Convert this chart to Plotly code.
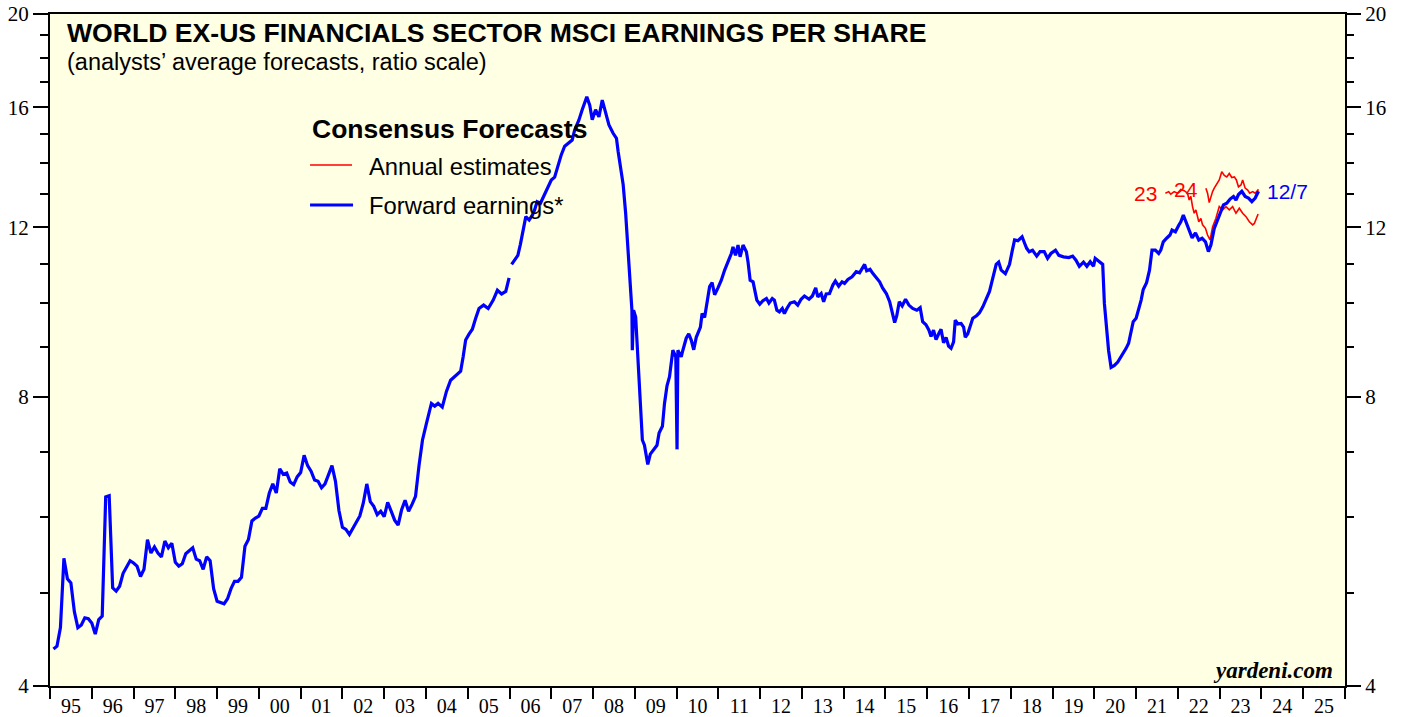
import math
import pandas as pd
import plotly.graph_objects as go

# ---------------- data ----------------
# Forward earnings, monthly, Feb 1995 .. Dec 2003
fwd_monthly_start = "1995-02-01"
fwd_monthly = [4.37, 4.40, 4.60, 5.43, 5.17, 5.12, 4.78, 4.60, 4.63, 4.71,
               4.70, 4.65, 4.53, 4.69, 4.73, 6.29, 6.31, 5.06, 5.02, 5.08,
               5.24, 5.33, 5.40, 5.37, 5.33, 5.20, 5.29, 5.68, 5.50, 5.58,
               5.50, 5.45, 5.66, 5.57, 5.63, 5.38, 5.33, 5.36, 5.49, 5.53,
               5.57, 5.42, 5.40, 5.29, 5.45, 5.40, 5.05, 4.90, 4.88, 4.87,
               4.93, 5.05, 5.14, 5.14, 5.19, 5.59, 5.68, 5.94, 5.98, 6.01,
               6.12, 6.12, 6.35, 6.49, 6.35, 6.73, 6.64, 6.66, 6.52, 6.48,
               6.60, 6.67, 6.95, 6.78, 6.69, 6.55, 6.53, 6.43, 6.49, 6.64,
               6.78, 6.53, 6.09, 5.85, 5.82, 5.75, 5.84, 5.93, 6.01, 6.20,
               6.49, 6.22, 6.15, 6.03, 6.08, 6.00, 6.21, 6.08, 5.95, 5.88,
               6.10, 6.24, 6.08, 6.18, 6.30, 6.78, 7.21]

# Forward earnings, 2004 .. 12/7/2023 (decimal years)
fwd_years = [2004.01, 2004.13, 2004.21, 2004.29, 2004.39, 2004.49, 2004.59, 2004.71, 2004.83, 2004.89,
             2004.95, 2005.03, 2005.11, 2005.19, 2005.27, 2005.38, 2005.49, 2005.61, 2005.71, 2005.81,
             2005.91, 2005.99, 2006.02, 2006.05, 2006.12, 2006.20, 2006.26, 2006.32, 2006.39, 2006.47,
             2006.55, 2006.60, 2006.66, 2006.74, 2006.84, 2006.92, 2007.00, 2007.08, 2007.16, 2007.24,
             2007.32, 2007.42, 2007.50, 2007.56, 2007.66, 2007.74, 2007.80, 2007.85, 2007.92, 2007.98,
             2008.06, 2008.14, 2008.22, 2008.30, 2008.38, 2008.48, 2008.56, 2008.60, 2008.65, 2008.72,
             2008.78, 2008.83, 2008.86, 2008.89, 2008.93, 2008.94, 2008.97, 2009.02, 2009.05, 2009.10,
             2009.13, 2009.18, 2009.23, 2009.29, 2009.31, 2009.37, 2009.45, 2009.53, 2009.58, 2009.66,
             2009.71, 2009.77, 2009.83, 2009.87, 2009.91, 2009.98, 2010.01, 2010.03, 2010.11, 2010.15,
             2010.23, 2010.29, 2010.35, 2010.41, 2010.47, 2010.57, 2010.61, 2010.67, 2010.75, 2010.79,
             2010.85, 2010.91, 2010.99, 2011.07, 2011.15, 2011.23, 2011.31, 2011.35, 2011.41, 2011.47,
             2011.52, 2011.59, 2011.67, 2011.71, 2011.76, 2011.83, 2011.87, 2011.92, 2011.99, 2012.06,
             2012.15, 2012.21, 2012.29, 2012.34, 2012.40, 2012.46, 2012.53, 2012.58, 2012.64, 2012.72,
             2012.82, 2012.90, 2012.98, 2013.06, 2013.17, 2013.25, 2013.33, 2013.38, 2013.46, 2013.52,
             2013.58, 2013.66, 2013.74, 2013.80, 2013.88, 2013.96, 2014.02, 2014.10, 2014.20, 2014.30,
             2014.38, 2014.44, 2014.50, 2014.55, 2014.63, 2014.70, 2014.77, 2014.86, 2014.93, 2015.02,
             2015.10, 2015.17, 2015.22, 2015.27, 2015.33, 2015.40, 2015.48, 2015.56, 2015.65, 2015.75,
             2015.83, 2015.89, 2015.97, 2016.04, 2016.09, 2016.15, 2016.21, 2016.28, 2016.33, 2016.39,
             2016.45, 2016.51, 2016.57, 2016.63, 2016.67, 2016.73, 2016.81, 2016.87, 2016.91, 2016.97,
             2017.03, 2017.09, 2017.18, 2017.25, 2017.33, 2017.41, 2017.49, 2017.57, 2017.65, 2017.71,
             2017.77, 2017.87, 2017.97, 2018.03, 2018.09, 2018.17, 2018.27, 2018.33, 2018.38, 2018.44,
             2018.52, 2018.62, 2018.70, 2018.80, 2018.88, 2018.96, 2019.07, 2019.15, 2019.26, 2019.39,
             2019.48, 2019.56, 2019.64, 2019.74, 2019.82, 2019.90, 2019.98, 2020.02, 2020.12, 2020.20,
             2020.24, 2020.29, 2020.34, 2020.40, 2020.48, 2020.56, 2020.64, 2020.69, 2020.76, 2020.82,
             2020.88, 2020.93, 2021.00, 2021.06, 2021.12, 2021.17, 2021.25, 2021.32, 2021.38, 2021.46,
             2021.54, 2021.59, 2021.65, 2021.73, 2021.81, 2021.86, 2021.94, 2022.02, 2022.07, 2022.13,
             2022.19, 2022.26, 2022.34, 2022.42, 2022.50, 2022.58, 2022.66, 2022.73, 2022.79, 2022.87,
             2022.93, 2023.01, 2023.09, 2023.17, 2023.25, 2023.33, 2023.39, 2023.45, 2023.53, 2023.61,
             2023.69, 2023.77, 2023.85, 2023.93]
fwd_values = [7.50, 7.87, 7.82, 7.87, 7.80, 8.10, 8.32, 8.42, 8.50, 8.80,
              9.16, 9.29, 9.40, 9.65, 9.88, 9.96, 9.88, 10.08, 10.32, 10.23,
              10.29, 10.63, None, 10.98, 11.09, 11.22, 11.52, 11.83, 12.31, 12.21,
              12.36, 12.51, 12.76, 12.71, 12.98, 13.25, 13.44, 13.53, 13.95, 14.28,
              14.57, 14.69, 14.79, 15.15, 15.51, 15.90, 16.17, 16.40, 16.08, 15.53,
              15.90, 15.63, 16.27, 15.76, 15.33, 15.03, 14.85, 14.39, 13.90, 13.30,
              12.41, 11.36, 11.04, 10.34, 9.84, 8.94, 9.84, 9.68, 9.09, 8.39,
              7.75, 7.21, 7.12, 6.92, 6.80, 6.97, 7.05, 7.12, 7.33, 7.45,
              7.87, 8.21, 8.39, 8.73, 8.94, 8.80, 7.05, 8.94, 8.80, 8.94,
              9.20, 9.30, 9.16, 8.95, 9.22, 9.45, 9.76, 9.67, 10.21, 10.41,
              10.51, 10.21, 10.38, 10.57, 10.83, 11.05, 11.27, 11.45, 11.22, 11.50,
              11.18, 11.50, 11.32, 11.04, 10.57, 10.53, 10.29, 10.08, 9.98, 10.06,
              10.12, 10.01, 10.12, 10.08, 9.84, 9.80, 9.88, 9.76, 9.88, 10.01,
              10.04, 9.96, 10.10, 10.18, 10.10, 10.18, 10.38, 10.16, 10.24, 10.04,
              10.23, 10.24, 10.45, 10.55, 10.42, 10.53, 10.49, 10.59, 10.66, 10.79,
              10.76, 10.87, 10.98, 10.81, 10.85, 10.74, 10.66, 10.53, 10.38, 10.24,
              10.04, 9.76, 9.55, 9.71, 10.04, 9.94, 10.10, 9.96, 9.88, 9.84,
              9.90, 9.57, 9.50, 9.38, 9.24, 9.38, 9.17, 9.31, 9.40, 9.10,
              9.22, 9.03, 8.98, 9.12, 9.61, 9.52, 9.53, 9.45, 9.22, 9.30,
              9.50, 9.65, 9.71, 9.78, 9.92, 10.12, 10.29, 10.63, 10.98, 11.04,
              10.83, 10.74, 10.98, 11.32, 11.64, 11.62, 11.73, 11.55, 11.41, 11.32,
              11.36, 11.20, 11.32, 11.32, 11.14, 11.27, 11.36, 11.22, 11.18, 11.16,
              11.20, 11.09, 10.93, 11.04, 10.93, 11.05, 10.93, 11.14, 11.04, 10.98,
              10.00, 9.45, 8.94, 8.58, 8.62, 8.69, 8.80, 8.90, 8.98, 9.09,
              9.34, 9.57, 9.65, 9.84, 10.08, 10.34, 10.51, 10.83, 11.36, 11.36,
              11.27, 11.36, 11.59, 11.69, 11.78, 11.92, 11.87, 12.06, 12.16, 12.36,
              12.16, 11.97, 11.70, 11.84, 11.64, 11.69, 11.59, 11.32, 11.50, 11.97,
              12.16, 12.46, 12.66, 12.71, 12.84, 12.92, 12.81, 12.98, 13.08, 12.92,
              12.87, 12.76, 12.87, 13.08]

# Annual consensus estimates
est23_years = [2021.70, 2021.78, 2021.83, 2021.91, 2021.99, 2022.07, 2022.15, 2022.23, 2022.27, 2022.31,
               2022.35, 2022.39, 2022.43, 2022.50, 2022.55, 2022.59, 2022.66, 2022.71, 2022.77, 2022.83,
               2022.91, 2022.99, 2023.07, 2023.15, 2023.23, 2023.31, 2023.39, 2023.47, 2023.55, 2023.63,
               2023.71, 2023.79, 2023.83, 2023.87, 2023.92]
est23_values = [13.02, 13.07, 12.99, 13.07, 13.02, 13.14, 13.10, 13.02, 12.81, 12.92,
                12.61, 12.41, 12.51, 12.16, 12.26, 12.07, 11.97, 11.78, 11.64, 12.01,
                12.26, 12.61, 12.51, 12.61, 12.51, 12.61, 12.41, 12.56, 12.41, 12.31,
                12.16, 12.07, 12.11, 12.26, 12.39]
est24_years = [2022.67, 2022.71, 2022.75, 2022.79, 2022.83, 2022.87, 2022.93, 2022.99, 2023.05, 2023.11,
               2023.17, 2023.23, 2023.29, 2023.35, 2023.40, 2023.45, 2023.51, 2023.55, 2023.61, 2023.67,
               2023.72, 2023.79, 2023.85, 2023.91, 2023.93]
est24_values = [13.18, 13.02, 12.73, 12.92, 13.07, 13.18, 13.33, 13.44, 13.71, 13.59,
                13.54, 13.65, 13.52, 13.54, 13.44, 13.22, 13.28, 13.44, 13.18, 13.12,
                13.02, 13.07, 13.02, 13.10, 13.14]

year_labels = ["95", "96", "97", "98", "99", "00", "01", "02", "03", "04", "05",
               "06", "07", "08", "09", "10", "11", "12", "13", "14", "15", "16",
               "17", "18", "19", "20", "21", "22", "23", "24", "25"]
first_year = 1995
y_major = [4, 8, 12, 16, 20]
y_minor = [5, 6, 7, 9, 10, 11, 13, 14, 15, 17, 18, 19]

# ---------------- build ----------------
months = pd.date_range(fwd_monthly_start, periods=len(fwd_monthly), freq="MS")
early_x = [d.year + (d.month - 1) / 12 for d in months]
fwd_x = early_x + fwd_years
fwd_y = fwd_monthly + fwd_values

BLUE = "#0000FF"
RED = "#FF0000"
SERIF = "Liberation Serif, Times New Roman, serif"
SANS = "Liberation Sans, Arial, sans-serif"

fig = go.Figure()
fig.add_trace(go.Scatter(x=est23_years, y=est23_values, mode="lines",
                         line=dict(color=RED, width=1.6), hoverinfo="skip", showlegend=False))
fig.add_trace(go.Scatter(x=est24_years, y=est24_values, mode="lines",
                         line=dict(color=RED, width=1.6), hoverinfo="skip", showlegend=False))
fig.add_trace(go.Scatter(x=fwd_x, y=fwd_y, mode="lines", connectgaps=False,
                         line=dict(color=BLUE, width=3.2), hoverinfo="skip", showlegend=False))
# invisible trace so that the right-hand axis is drawn
fig.add_trace(go.Scatter(x=fwd_x, y=fwd_y, yaxis="y2", mode="lines",
                         line=dict(color="rgba(0,0,0,0)", width=0), hoverinfo="skip", showlegend=False))

n_years = len(year_labels)
yrange = [math.log10(y_major[0]), math.log10(y_major[-1])]

fig.update_layout(
    width=1405, height=717, autosize=False,
    margin=dict(l=50, r=60, t=14, b=31, autoexpand=False),
    paper_bgcolor="white",
    plot_bgcolor="#FFFFE3",
    xaxis=dict(
        range=[first_year, first_year + n_years],
        tickmode="array",
        tickvals=[first_year + i + 0.5 for i in range(n_years)],
        ticktext=year_labels,
        ticks="",
        ticklabelstandoff=1,
        tickfont=dict(family=SERIF, size=20, color="black"),
        minor=dict(tickmode="array",
                   tickvals=[first_year + i for i in range(n_years + 1)],
                   ticks="outside", ticklen=11, tickwidth=2, tickcolor="black",
                   showgrid=False),
        showgrid=False, zeroline=False,
        showline=True, linecolor="black", linewidth=2, mirror=True,
        fixedrange=True, automargin=False,
    ),
    yaxis=dict(
        type="log", range=yrange,
        tickmode="array", tickvals=y_major, ticktext=[str(v) for v in y_major],
        ticks="outside", ticklen=15, tickwidth=1.5, tickcolor="black",
        minor=dict(tickmode="array", tickvals=y_minor, ticks="outside",
                   ticklen=8, tickwidth=1.5, tickcolor="black", showgrid=False),
        tickfont=dict(family=SERIF, size=21, color="black"),
        showgrid=False, zeroline=False,
        showline=True, linecolor="black", linewidth=2, mirror=True,
        fixedrange=True, automargin=False,
    ),
    yaxis2=dict(
        type="log", range=yrange, overlaying="y", side="right", anchor="x",
        tickmode="array", tickvals=y_major, ticktext=[str(v) for v in y_major],
        ticks="outside", ticklen=15, tickwidth=1.5, tickcolor="black",
        minor=dict(tickmode="array", tickvals=y_minor, ticks="outside",
                   ticklen=8, tickwidth=1.5, tickcolor="black", showgrid=False),
        tickfont=dict(family=SERIF, size=21, color="black"),
        showgrid=False, zeroline=False, showline=False,
        fixedrange=True, automargin=False,
    ),
)

def pap(text, x, y, size, color="black", bold=False, italic=False, family=SANS, xanchor="left"):
    t = text
    if bold:
        t = "<b>" + t + "</b>"
    if italic:
        t = "<i>" + t + "</i>"
    fig.add_annotation(text=t, x=x, y=y, xref="paper", yref="paper", showarrow=False,
                       xanchor=xanchor, yanchor="middle",
                       font=dict(family=family, size=size, color=color))

pap("WORLD EX-US FINANCIALS SECTOR MSCI EARNINGS PER SHARE", 0.0116, 0.9717, 26.6, bold=True)
pap("(analysts\u2019 average forecasts, ratio scale)", 0.0116, 0.9286, 23.5)
pap("Consensus Forecasts", 0.2008, 0.8289, 26.5, bold=True)
pap("Annual estimates", 0.2448, 0.7738, 23.8)
pap("Forward earnings*", 0.2448, 0.7143, 23.8)
pap("yardeni.com", 0.9923, 0.0238, 23, bold=True, italic=True, family=SERIF, xanchor="right")

fig.add_shape(type="line", xref="paper", yref="paper", x0=0.2008, x1=0.2332, y0=0.7753, y1=0.7753,
              line=dict(color=RED, width=1.6))
fig.add_shape(type="line", xref="paper", yref="paper", x0=0.2008, x1=0.2340, y0=0.7158, y1=0.7158,
              line=dict(color=BLUE, width=3.2))

def lab(text, x, y, color):
    fig.add_annotation(text=text, x=x, y=math.log10(y), xref="x", yref="y", showarrow=False,
                       xanchor="center", yanchor="middle",
                       font=dict(family=SANS, size=21, color=color))

lab("23", 2021.22, 13.02, RED)
lab("24", 2022.20, 13.14, RED)
lab("12/7", 2024.62, 13.07, BLUE)

fig.write_html("out.html", config={"displayModeBar": False},
               post_script="document.body.style.margin='0';")
